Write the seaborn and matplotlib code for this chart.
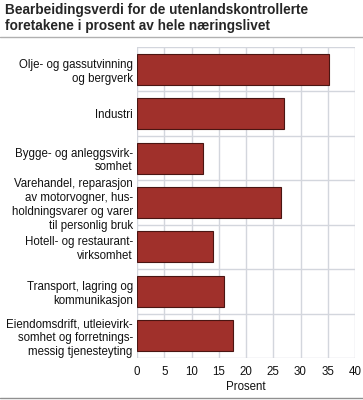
import matplotlib
matplotlib.use("Agg")
import matplotlib.pyplot as plt
import seaborn as sns
import pandas as pd

categories = [
    "Olje- og gassutvinning\nog bergverk",
    "Industri",
    "Bygge- og anleggsvirk-\nsomhet",
    "Varehandel, reparasjon\nav motorvogner, hus-\nholdningsvarer og varer\ntil personlig bruk",
    "Hotell- og restaurant-\nvirksomhet",
    "Transport, lagring og\nkommunikasjon",
    "Eiendomsdrift, utleievirk-\nsomhet og forretnings-\nmessig tjenesteyting",
]
values = [35.2, 27.0, 12.2, 26.5, 13.9, 16.0, 17.7]
xticks = [0, 5, 10, 15, 20, 25, 30, 35, 40]

df = pd.DataFrame({"kategori": categories, "prosent": values})

sns.set_style("white")
plt.rcParams["font.family"] = ["Liberation Sans", "DejaVu Sans"]

W, H = 363, 400
fig = plt.figure(figsize=(W / 100, H / 100), dpi=100)
ax = fig.add_axes([137 / W, 1 - 358 / H, (355 - 137) / W, (358 - 47) / H])

grid_c = "#d3d6dd"
sns.barplot(data=df, x="prosent", y="kategori", orient="h", color="#a0302b",
            saturation=1, width=0.7, edgecolor="#4a1512", linewidth=0.8, ax=ax, zorder=3)

fs = 8.3
ax.set_xlim(0, 40)
ax.set_xticks(xticks)
ax.set_xticklabels([str(t) for t in xticks], fontsize=fs)
ax.set_ylim(6.5, -0.5)
ax.set_yticks(range(len(categories)))
ax.set_yticklabels(categories, fontsize=fs, linespacing=1.2)
for yb in [i + 0.5 for i in range(-1, 7)]:
    ax.axhline(yb, color=grid_c, lw=1, zorder=1)
for xt in xticks:
    ax.axvline(xt, color=grid_c, lw=1, zorder=1)
for s in ax.spines.values():
    s.set_visible(False)
ax.tick_params(axis="y", length=0, pad=3, colors="#111111")
ax.tick_params(axis="x", length=0, pad=6, colors="#111111")
ax.set_ylabel("")
ax.set_xlabel("Prosent", fontsize=fs, labelpad=2, color="#111111")

fig.text(5 / W, 1 - 3 / H, "Bearbeidingsverdi for de utenlandskontrollerte\nforetakene i prosent av hele næringslivet",
         fontsize=9.8, fontweight="bold", va="top", ha="left", linespacing=1.15)
fig.add_artist(plt.Line2D([0, 1], [1 - 37 / H, 1 - 37 / H], color="#b0b0b0", lw=1))
fig.add_artist(plt.Line2D([0, 1], [1 - 398 / H, 1 - 398 / H], color="#909090", lw=1))

fig.savefig("out.png", dpi=100)
